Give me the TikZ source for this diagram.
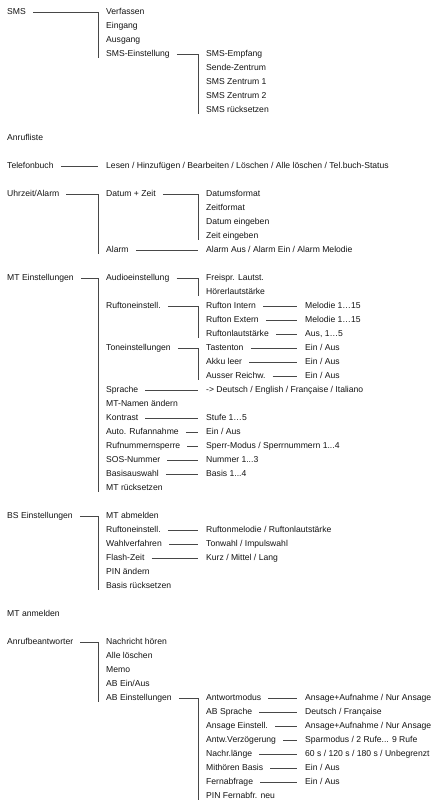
\documentclass[tikz,border=0pt]{standalone}
\usepackage{fontspec}
\setmainfont{Liberation Sans}
\usetikzlibrary{calc}
\tikzset{
  t/.style={anchor=west, inner sep=0pt, text height=6.2pt, text depth=1.8pt,
            font=\fontsize{8.6}{10}\selectfont, text=black!92},
  conn/.style={draw=black!72, line width=0.9pt},
  leafconn/.style={conn, shorten <=7pt, shorten >=8pt},
  brconn/.style={conn, shorten <=7pt},
}
\newcommand\mkleaf[2]{\draw[leafconn] (#1.east) -- (#1.east -| #2.west);}
\newcommand\mkbranch[3]{\draw[brconn] (#1.east) -- ($(#1.east -| #2.west)+(-8pt,0)$) -- ($(#3.west)+(-8pt,-4pt)$);}
\begin{document}
\begin{tikzpicture}[x=1pt,y=-14pt]
\useasboundingbox (0pt,12pt) rectangle (434pt,-793pt);
% column 1
\node[t] (sms) at (7,0) {SMS};
\node[t] (anr) at (7,9) {Anrufliste};
\node[t] (tel) at (7,11) {Telefonbuch};
\node[t] (uhr) at (7,13) {Uhrzeit/Alarm};
\node[t] (mte) at (7,19) {MT Einstellungen};
\node[t] (bse) at (7,36) {BS Einstellungen};
\node[t] (mta) at (7,43) {MT anmelden};
\node[t] (ab) at (7,45) {Anrufbeantworter};
% column 2
\node[t] (verf) at (106,0) {Verfassen};
\node[t] (eing) at (106,1) {Eingang};
\node[t] (ausg) at (106,2) {Ausgang};
\node[t] (smse) at (106,3) {SMS-Einstellung};
\node[t] (lesen) at (106,11) {Lesen / Hinzufügen / Bearbeiten / Löschen / Alle löschen / Tel.buch-Status};
\node[t] (dz) at (106,13) {Datum + Zeit};
\node[t] (alarm) at (106,17) {Alarm};
\node[t] (audio) at (106,19) {Audioeinstellung};
\node[t] (rte) at (106,21) {Ruftoneinstell.};
\node[t] (tone) at (106,24) {Toneinstellungen};
\node[t] (spr) at (106,27) {Sprache};
\node[t] (mtn) at (106,28) {MT-Namen ändern};
\node[t] (kon) at (106,29) {Kontrast};
\node[t] (auto) at (106,30) {Auto. Rufannahme};
\node[t] (rns) at (106,31) {Rufnummernsperre};
\node[t] (sos) at (106,32) {SOS-Nummer};
\node[t] (basa) at (106,33) {Basisauswahl};
\node[t] (mtr) at (106,34) {MT rücksetzen};
\node[t] (mtab) at (106,36) {MT abmelden};
\node[t] (brte) at (106,37) {Ruftoneinstell.};
\node[t] (wahl) at (106,38) {Wahlverfahren};
\node[t] (flash) at (106,39) {Flash-Zeit};
\node[t] (pin) at (106,40) {PIN ändern};
\node[t] (basr) at (106,41) {Basis rücksetzen};
\node[t] (nh) at (106,45) {Nachricht hören};
\node[t] (al) at (106,46) {Alle löschen};
\node[t] (memo) at (106,47) {Memo};
\node[t] (abea) at (106,48) {AB Ein/Aus};
\node[t] (abe) at (106,49) {AB Einstellungen};
% column 3
\node[t] (smsemp) at (206,3) {SMS-Empfang};
\node[t] (sz) at (206,4) {Sende-Zentrum};
\node[t] (sz1) at (206,5) {SMS Zentrum 1};
\node[t] (sz2) at (206,6) {SMS Zentrum 2};
\node[t] (smsr) at (206,7) {SMS rücksetzen};
\node[t] (dfmt) at (206,13) {Datumsformat};
\node[t] (zfmt) at (206,14) {Zeitformat};
\node[t] (deing) at (206,15) {Datum eingeben};
\node[t] (zeing) at (206,16) {Zeit eingeben};
\node[t] (alv) at (206,17) {Alarm Aus / Alarm Ein / Alarm Melodie};
\node[t] (freis) at (206,19) {Freispr. Lautst.};
\node[t] (hoer) at (206,20) {Hörerlautstärke};
\node[t] (rti) at (206,21) {Rufton Intern};
\node[t] (rtx) at (206,22) {Rufton Extern};
\node[t] (rtl) at (206,23) {Ruftonlautstärke};
\node[t] (tast) at (206,24) {Tastenton};
\node[t] (akku) at (206,25) {Akku leer};
\node[t] (ausr) at (206,26) {Ausser Reichw.};
\node[t] (sprv) at (206,27) {-> Deutsch / English / Française / Italiano};
\node[t] (konv) at (206,29) {Stufe 1…5};
\node[t] (autov) at (206,30) {Ein / Aus};
\node[t] (rnsv) at (206,31) {Sperr-Modus / Sperrnummern 1...4};
\node[t] (sosv) at (206,32) {Nummer 1...3};
\node[t] (basav) at (206,33) {Basis 1...4};
\node[t] (brtev) at (206,37) {Ruftonmelodie / Ruftonlautstärke};
\node[t] (wahlv) at (206,38) {Tonwahl / Impulswahl};
\node[t] (flashv) at (206,39) {Kurz / Mittel / Lang};
\node[t] (antm) at (206,49) {Antwortmodus};
\node[t] (abs) at (206,50) {AB Sprache};
\node[t] (ans) at (206,51) {Ansage Einstell.};
\node[t] (antw) at (206,52) {Antw.Verzögerung};
\node[t] (nachr) at (206,53) {Nachr.länge};
\node[t] (mith) at (206,54) {Mithören Basis};
\node[t] (fern) at (206,55) {Fernabfrage};
\node[t] (pinf) at (206,56) {PIN Fernabfr. neu};
% column 4
\node[t] (rtiv) at (305,21) {Melodie 1…15};
\node[t] (rtxv) at (305,22) {Melodie 1…15};
\node[t] (rtlv) at (305,23) {Aus, 1…5};
\node[t] (tastv) at (305,24) {Ein / Aus};
\node[t] (akkuv) at (305,25) {Ein / Aus};
\node[t] (ausrv) at (305,26) {Ein / Aus};
\node[t] (antmv) at (305,49) {Ansage+Aufnahme / Nur Ansage};
\node[t] (absv) at (305,50) {Deutsch / Française};
\node[t] (ansv) at (305,51) {Ansage+Aufnahme / Nur Ansage};
\node[t] (antwv) at (305,52) {Sparmodus / 2 Rufe... 9 Rufe};
\node[t] (nachrv) at (305,53) {60 s / 120 s / 180 s / Unbegrenzt};
\node[t] (mithv) at (305,54) {Ein / Aus};
\node[t] (fernv) at (305,55) {Ein / Aus};
% branches
\mkbranch{sms}{verf}{smse}
\mkbranch{smse}{smsemp}{smsr}
\mkbranch{uhr}{dz}{alarm}
\mkbranch{dz}{dfmt}{zeing}
\mkbranch{mte}{audio}{mtr}
\mkbranch{audio}{freis}{hoer}
\mkbranch{rte}{rti}{rtl}
\mkbranch{tone}{tast}{ausr}
\mkbranch{bse}{mtab}{basr}
\mkbranch{ab}{nh}{abe}
\mkbranch{abe}{antm}{pinf}
% leaves
\mkleaf{tel}{lesen}
\mkleaf{alarm}{alv}
\mkleaf{rti}{rtiv}
\mkleaf{rtx}{rtxv}
\mkleaf{rtl}{rtlv}
\mkleaf{tast}{tastv}
\mkleaf{akku}{akkuv}
\mkleaf{ausr}{ausrv}
\mkleaf{spr}{sprv}
\mkleaf{kon}{konv}
\mkleaf{auto}{autov}
\mkleaf{rns}{rnsv}
\mkleaf{sos}{sosv}
\mkleaf{basa}{basav}
\mkleaf{brte}{brtev}
\mkleaf{wahl}{wahlv}
\mkleaf{flash}{flashv}
\mkleaf{antm}{antmv}
\mkleaf{abs}{absv}
\mkleaf{ans}{ansv}
\mkleaf{antw}{antwv}
\mkleaf{nachr}{nachrv}
\mkleaf{mith}{mithv}
\mkleaf{fern}{fernv}
\end{tikzpicture}
\end{document}
